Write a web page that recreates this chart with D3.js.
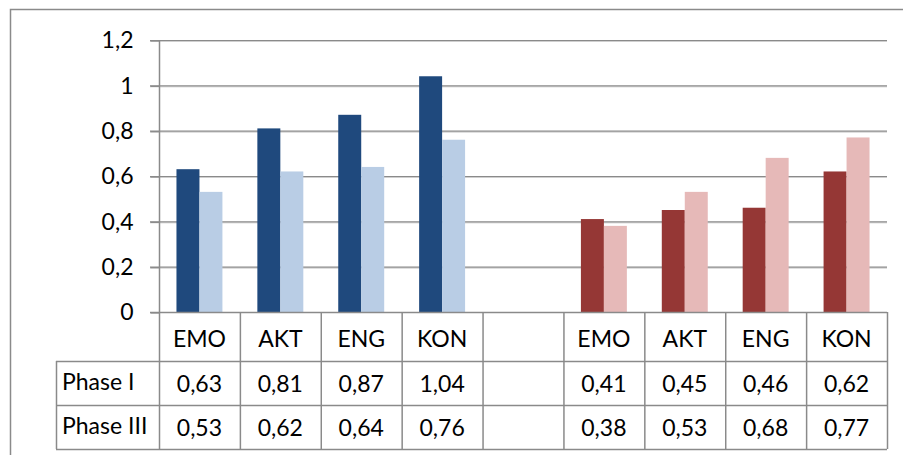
<!DOCTYPE html>
<html>
<head>
<meta charset="utf-8">
<script src="https://cdn.jsdelivr.net/npm/d3@7"></script>
<style>
  html, body { margin: 0; padding: 0; background: #fff; }
  svg { display: block; font-family: Lato, "Open Sans", sans-serif; }
</style>
</head>
<body>
<svg id="chart" width="903" height="455"></svg>
<script>
// Data: two groups of four scales, separated by an empty slot
const categories = ["EMO", "AKT", "ENG", "KON", "", "EMO", "AKT", "ENG", "KON"];
const phaseI   = [0.63, 0.81, 0.87, 1.04, null, 0.41, 0.45, 0.46, 0.62];
const phaseIII = [0.53, 0.62, 0.64, 0.76, null, 0.38, 0.53, 0.68, 0.77];
const seriesNames = ["Phase I", "Phase III"];
const yTicks = [0, 0.2, 0.4, 0.6, 0.8, 1, 1.2];
const groupOfCategory = [0, 0, 0, 0, null, 1, 1, 1, 1];

// Colours per group: [Phase I, Phase III]
const palette = [["#1F497D", "#B9CDE5"], ["#953735", "#E6B9B8"]];
const lineColor = "#8a8a8a";
const fontSize = 23;

const svg = d3.select("#chart");
const locale = d3.formatLocale({ decimal: ",", thousands: ".", grouping: [3], currency: ["", " €"] });
const fmtAxis = locale.format(".2~f");
const fmtCell = locale.format(".2f");

const plot = { left: 159, right: 887, top: 40, bottom: 312 };
const rowBounds = [312, 361, 405, 449];
const tableLeft = 56;

const x = d3.scaleBand().domain(d3.range(categories.length)).range([plot.left, plot.right]).padding(0);
const xs = d3.scaleBand().domain(seriesNames).range([0, x.bandwidth()]).paddingInner(0).paddingOuter(0.76);
const y = d3.scaleLinear().domain([0, 1.2]).range([plot.bottom, plot.top]);

// Outer chart frame (extends past the visible area)
svg.append("rect").attr("x", 10.5).attr("y", 9.5).attr("width", 1000).attr("height", 1000)
  .attr("fill", "none").attr("stroke", lineColor).attr("stroke-width", 1.5);

// Gridlines with a soft shadow line underneath
const grid = svg.append("g");
yTicks.filter(t => t > 0).forEach(t => {
  grid.append("line").attr("x1", 150).attr("x2", plot.right).attr("y1", y(t) + 1.5).attr("y2", y(t) + 1.5)
    .attr("stroke", "#cfcfcf").attr("stroke-width", 1);
  grid.append("line").attr("x1", 150).attr("x2", plot.right).attr("y1", y(t) + 0.5).attr("y2", y(t) + 0.5)
    .attr("stroke", lineColor).attr("stroke-width", 1.2);
});

// Bars
const rows = [phaseI, phaseIII];
const barData = [];
categories.forEach((c, i) => {
  seriesNames.forEach((s, k) => {
    const v = rows[k][i];
    if (v != null) barData.push({ i, s, k, v, g: groupOfCategory[i] });
  });
});
svg.append("g").selectAll("rect").data(barData).join("rect")
  .attr("x", d => x(d.i) + xs(d.s))
  .attr("width", xs.bandwidth())
  .attr("y", d => y(d.v))
  .attr("height", d => y(0) - y(d.v))
  .attr("fill", d => palette[d.g][d.k]);

// Y axis
const yAxis = d3.axisLeft(y).tickValues(yTicks).tickFormat(fmtAxis).tickSize(9).tickPadding(17);
const ya = svg.append("g").attr("transform", `translate(${plot.left + 0.5},0.5)`).call(yAxis);
ya.select(".domain").remove();
ya.selectAll(".tick line").attr("stroke", lineColor).attr("stroke-width", 1.2);
ya.selectAll(".tick text").attr("font-size", fontSize).attr("fill", "#000").attr("font-family", "Lato, sans-serif");

// Data table lines
const tl = svg.append("g").attr("stroke", lineColor).attr("stroke-width", 1.5).attr("fill", "none");
// y axis line continuing through the table
tl.append("line").attr("x1", plot.left + 0.5).attr("x2", plot.left + 0.5).attr("y1", plot.top).attr("y2", rowBounds[3]);
// horizontal rules
tl.append("line").attr("x1", 150).attr("x2", plot.right).attr("y1", rowBounds[0] + 0.5).attr("y2", rowBounds[0] + 0.5);
rowBounds.slice(1).forEach(yy => {
  tl.append("line").attr("x1", tableLeft).attr("x2", plot.right).attr("y1", yy + 0.5).attr("y2", yy + 0.5);
});
// vertical rules between categories
d3.range(1, categories.length + 1).forEach(i => {
  const xx = i < categories.length ? x(i) : plot.right;
  tl.append("line").attr("x1", xx + 0.5).attr("x2", xx + 0.5).attr("y1", rowBounds[0]).attr("y2", rowBounds[3]);
});
tl.append("line").attr("x1", tableLeft + 0.5).attr("x2", tableLeft + 0.5).attr("y1", rowBounds[1]).attr("y2", rowBounds[3]);

// Table text
const tt = svg.append("g").attr("font-size", fontSize).attr("fill", "#000").attr("dominant-baseline", "central");
categories.forEach((c, i) => {
  tt.append("text").attr("x", x(i) + x.bandwidth() / 2).attr("y", (rowBounds[0] + rowBounds[1]) / 2 + 1)
    .attr("text-anchor", "middle").text(c);
  rows.forEach((r, k) => {
    if (r[i] == null) return;
    tt.append("text").attr("x", x(i) + x.bandwidth() / 2).attr("y", (rowBounds[k + 1] + rowBounds[k + 2]) / 2)
      .attr("text-anchor", "middle").text(fmtCell(r[i]));
  });
});
seriesNames.forEach((s, k) => {
  tt.append("text").attr("x", tableLeft + 6).attr("y", (rowBounds[k + 1] + rowBounds[k + 2]) / 2 - 2)
    .attr("text-anchor", "start").text(s);
});
</script>
</body>
</html>
